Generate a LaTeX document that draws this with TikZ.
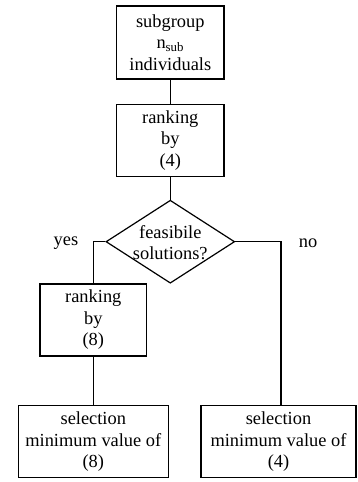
\documentclass[tikz,border=0pt]{standalone}
\usepackage{fontspec}
\setmainfont{Liberation Serif}
\usetikzlibrary{shapes.geometric}
\begin{document}
\begin{tikzpicture}[x=1pt,y=-1pt,
  every node/.style={font=\fontsize{18.4}{21.5}\selectfont},
  box/.style={draw,line width=1.2pt,align=center,inner sep=0pt},
  dia/.style={draw,diamond,line width=1.2pt,inner sep=0pt,minimum width=128.7pt,minimum height=83pt},
  conn/.style={line width=1.2pt}]
\useasboundingbox (0,0) rectangle (357,482);
\node[box,minimum width=107.3pt,minimum height=73pt] (b1) at (170.3,42.5) {subgroup\\n\textsubscript{sub}\\individuals};
\node[box,minimum width=107.3pt,minimum height=72.4pt] (b2) at (170.3,140.5) {ranking\\by\\(4)};
\node[dia] (d) at (170.3,241.7) {};
\node[align=center,inner sep=0pt] (dt) at (170.3,242.4) {feasibile\\solutions?};
\node[box,minimum width=106.7pt,minimum height=72pt] (b3) at (93.3,320) {ranking\\by\\(8)};
\node[box,minimum width=150pt,minimum height=72pt] (b4) at (93.3,441.7) {selection\\minimum value of\\(8)};
\node[box,minimum width=155pt,minimum height=72pt] (b5) at (278.5,441.7) {selection\\minimum value of\\(4)};
\node (yes) at (66,243) {yes};
\node (no) at (308,243) {no};
\draw[conn] (b1) -- (b2);
\draw[conn] (b2) -- (d);
\draw[conn] (d.west) -| (b3.north);
\draw[conn] (b3) -- (b4);
\draw[conn] (d.east) -| ([xshift=2.5pt]b5.north);
\end{tikzpicture}
\end{document}
